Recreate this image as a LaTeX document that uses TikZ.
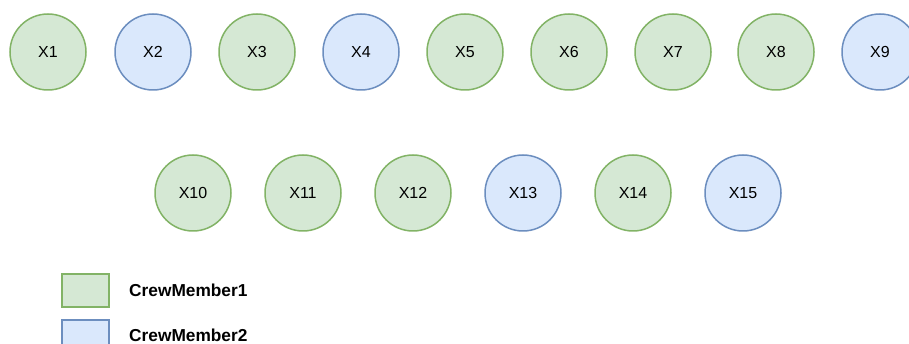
\documentclass[tikz,border=0pt]{standalone}
\usepackage{fontspec}
\setmainfont{Liberation Sans}
\begin{document}
\begin{tikzpicture}[x=1pt,y=-1pt,
  crew/.style={circle,minimum size=76pt,inner sep=0pt,line width=1.5pt,
    text height=11.5pt,text depth=0pt,font=\fontsize{16}{18}\selectfont},
  crewone/.style={crew,draw=green1line,fill=green1fill},
  crewtwo/.style={crew,draw=blue2line,fill=blue2fill},
  swatch/.style={draw,line width=1.5pt,minimum width=47pt,minimum height=33pt,inner sep=0pt},
  legendtext/.style={anchor=west,inner sep=0pt,text height=12pt,text depth=0pt,
    font=\fontsize{17.3}{19}\selectfont\bfseries}]
\definecolor{green1fill}{HTML}{D5E8D4}
\definecolor{green1line}{HTML}{82B366}
\definecolor{blue2fill}{HTML}{DAE8FC}
\definecolor{blue2line}{HTML}{6C8EBF}
\clip (0,0) rectangle (909,344);
\useasboundingbox (0,0) rectangle (909,344);
% first row
\node[crewone] (x1) at (48,52) {X1};
\node[crewtwo] (x2) at (153,52) {X2};
\node[crewone] (x3) at (257,52) {X3};
\node[crewtwo] (x4) at (361,52) {X4};
\node[crewone] (x5) at (465,52) {X5};
\node[crewone] (x6) at (569,52) {X6};
\node[crewone] (x7) at (673,52) {X7};
\node[crewone] (x8) at (776,52) {X8};
\node[crewtwo] (x9) at (880,52) {X9};
% second row
\node[crewone] (x10) at (193,193) {X10};
\node[crewone] (x11) at (303,193) {X11};
\node[crewone] (x12) at (413,193) {X12};
\node[crewtwo] (x13) at (523,193) {X13};
\node[crewone] (x14) at (633,193) {X14};
\node[crewtwo] (x15) at (743,193) {X15};
% legend
\node[swatch,draw=green1line,fill=green1fill] (sw1) at (85.5,290.5) {};
\node[legendtext] (lg1) at (129,290.5) {CrewMember1};
\node[swatch,draw=blue2line,fill=blue2fill] (sw2) at (85.5,336.5) {};
\node[legendtext] (lg2) at (129,335) {CrewMember2};
\end{tikzpicture}
\end{document}
